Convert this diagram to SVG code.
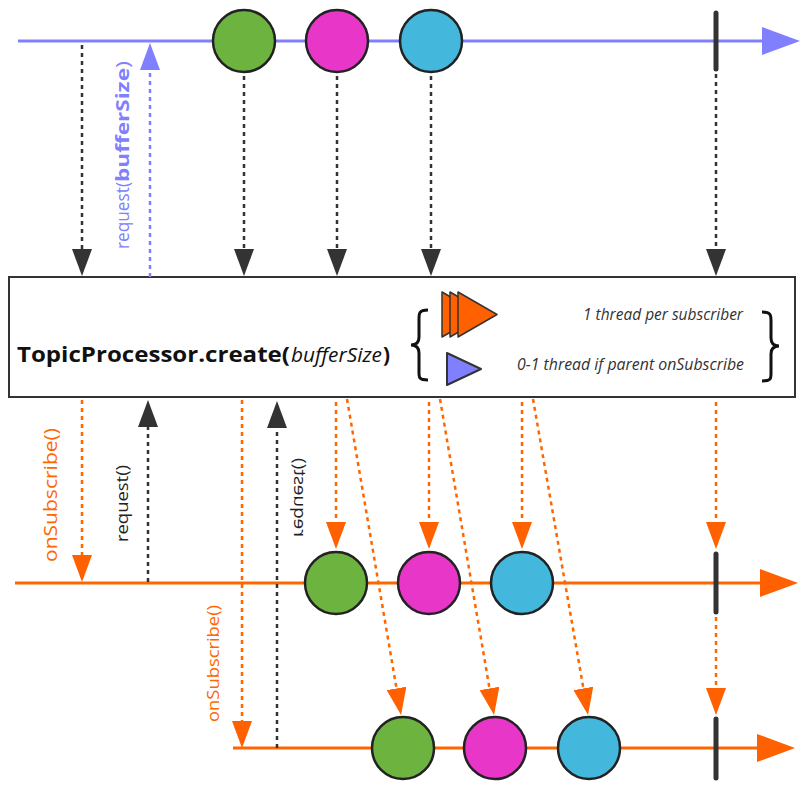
<svg xmlns="http://www.w3.org/2000/svg" width="807" height="792" viewBox="0 0 807 792">
<defs>
<style>
.dk{stroke:#333;stroke-width:2.5;stroke-dasharray:4 4;fill:none}
.or{stroke:#ff6600;stroke-width:2.5;stroke-dasharray:4 4;fill:none}
.bl{stroke:#8080ff;stroke-width:2.5;stroke-dasharray:4 4;fill:none}
.tlb{stroke:#8080ff;stroke-width:3;fill:none}
.tlo{stroke:#ff6600;stroke-width:3;fill:none}
.ev{stroke:#222;stroke-width:2.5}
.g{fill:#6db33f}
.m{fill:#e836c8}
.c{fill:#44b8dc}
.bar{stroke:#333;stroke-width:5;stroke-linecap:round}
text{font-family:"Open Sans","Liberation Sans",sans-serif}
.lab{font-size:15.5px;font-style:italic;fill:#333}
.title{font-size:20.5px;fill:#111}
</style>
<marker id="ahK" markerUnits="userSpaceOnUse" viewBox="0 0 27 20" markerWidth="27" markerHeight="20" refX="0" refY="10" orient="auto"><path d="M0,0 L27,10 L0,20 Z" fill="#333"/></marker>
<marker id="ahO" markerUnits="userSpaceOnUse" viewBox="0 0 27 20" markerWidth="27" markerHeight="20" refX="0" refY="10" orient="auto"><path d="M0,0 L27,10 L0,20 Z" fill="#ff6000"/></marker>
<marker id="ahB" markerUnits="userSpaceOnUse" viewBox="0 0 27 20" markerWidth="27" markerHeight="20" refX="0" refY="10" orient="auto"><path d="M0,0 L27,10 L0,20 Z" fill="#8080ff"/></marker>
</defs>
<rect x="0" y="0" width="807" height="792" fill="#fff"/>

<g id="timelines">
<path class="tlb" d="M18,41 H765"/>
<polygon points="762,27 800,41 762,55" fill="#8080ff"/>
<path class="tlo" d="M15,583 H762"/>
<polygon points="760,569 798,583 760,597" fill="#ff6000"/>
<path class="tlo" d="M233,748 H760"/>
<polygon points="757,734 795,748 757,762" fill="#ff6000"/>
</g>

<g id="processor">
<rect x="9" y="277" width="786" height="120" fill="#fff" stroke="#333" stroke-width="2"/>
<text class="title" x="17" y="362" font-weight="bold" textLength="273" lengthAdjust="spacingAndGlyphs">TopicProcessor.create(</text>
<text class="title" x="291" y="362" font-style="italic" textLength="91" lengthAdjust="spacingAndGlyphs">bufferSize</text>
<text class="title" x="383" y="362" font-weight="bold" textLength="7" lengthAdjust="spacingAndGlyphs">)</text>
<path d="M428,310 C418,310 419,314 419,322 L419,337 C419,343 416,345 411,345 C416,345 419,347 419,353 L419,370 C419,377 418,380 428,380" fill="none" stroke="#111" stroke-width="3"/>
<g stroke="#333" stroke-width="1.5" stroke-linejoin="round" fill="#ff6000">
<polygon points="442,292 481,314.5 442,337"/>
<polygon points="450,292 489,314.5 450,337"/>
<polygon points="458,292 497,314.5 458,337"/>
</g>
<polygon points="447,353 481,369 447,385" fill="#8080ff" stroke="#333" stroke-width="2" stroke-linejoin="round"/>
<text class="lab" x="583" y="320" textLength="160" lengthAdjust="spacingAndGlyphs">1 thread per subscriber</text>
<text class="lab" x="517" y="370" textLength="227" lengthAdjust="spacingAndGlyphs">0-1 thread if parent onSubscribe</text>
<path d="M762,312 C772,312 771,316 771,324 L771,338 C771,344 774,346 779,346 C774,346 771,348 771,354 L771,371 C771,378 772,381 762,381" fill="none" stroke="#111" stroke-width="3"/>
</g>

<g id="connectors">
<path class="dk" d="M82,45 V249" marker-end="url(#ahK)"/>
<path class="dk" d="M244,76 V249" marker-end="url(#ahK)"/>
<path class="dk" d="M337,76 V249" marker-end="url(#ahK)"/>
<path class="dk" d="M431,76 V249" marker-end="url(#ahK)"/>
<path class="dk" d="M716,74 V249" marker-end="url(#ahK)"/>
<path class="bl" d="M150,277 V70" marker-end="url(#ahB)"/>
<path class="or" d="M82,400 V555" marker-end="url(#ahO)"/>
<path class="dk" d="M148,582 V427" marker-end="url(#ahK)"/>
<path class="or" d="M242,400 V721" marker-end="url(#ahO)"/>
<path class="dk" d="M277,748 V428" marker-end="url(#ahK)"/>
<path class="or" d="M336,402 V522" marker-end="url(#ahO)"/>
<path class="or" d="M429,402 V522" marker-end="url(#ahO)"/>
<path class="or" d="M522,402 V522" marker-end="url(#ahO)"/>
<path class="or" d="M716,402 V522" marker-end="url(#ahO)"/>
<path class="or" d="M347,399 L396.5,688.4" marker-end="url(#ahO)"/>
<path class="or" d="M440,399 L489.5,688.4" marker-end="url(#ahO)"/>
<path class="or" d="M533,399 L583.4,688.4" marker-end="url(#ahO)"/>
<path class="or" d="M716,617 V688" marker-end="url(#ahO)"/>
<g transform="translate(129,249) rotate(-90)" fill="#8080ff" font-size="18">
<text x="0" y="0" textLength="67" lengthAdjust="spacingAndGlyphs">request(</text>
<text x="67" y="0" font-weight="bold" textLength="114" lengthAdjust="spacingAndGlyphs">bufferSize</text>
<text x="181" y="0" textLength="7" lengthAdjust="spacingAndGlyphs">)</text>
</g>
<text transform="translate(57,562) rotate(-90)" fill="#ff6600" font-size="17.5" textLength="134" lengthAdjust="spacingAndGlyphs">onSubscribe()</text>
<text transform="translate(128,542) rotate(-90)" fill="#222" font-size="16" textLength="77" lengthAdjust="spacingAndGlyphs">request()</text>
<text transform="translate(294,537) scale(-1,1) rotate(-90)" fill="#222" font-size="16" textLength="79" lengthAdjust="spacingAndGlyphs">request()</text>
<text transform="translate(219,722) rotate(-90)" fill="#ff6600" font-size="16.5" textLength="117" lengthAdjust="spacingAndGlyphs">onSubscribe()</text>
</g>

<g id="source-events">
<circle class="ev g" cx="244" cy="41" r="31"/>
<circle class="ev m" cx="337" cy="41" r="31"/>
<circle class="ev c" cx="431" cy="41" r="31"/>
<line class="bar" x1="716" y1="13" x2="716" y2="69"/>
</g>
<g id="subscriber1-events">
<circle class="ev g" cx="336" cy="583" r="31"/>
<circle class="ev m" cx="429" cy="583" r="31"/>
<circle class="ev c" cx="522" cy="583" r="31"/>
<line class="bar" x1="716" y1="554" x2="716" y2="612"/>
</g>
<g id="subscriber2-events">
<circle class="ev g" cx="403" cy="748" r="31"/>
<circle class="ev m" cx="495" cy="748" r="31"/>
<circle class="ev c" cx="589" cy="748" r="31"/>
<line class="bar" x1="716" y1="719" x2="716" y2="778"/>
</g>
</svg>
